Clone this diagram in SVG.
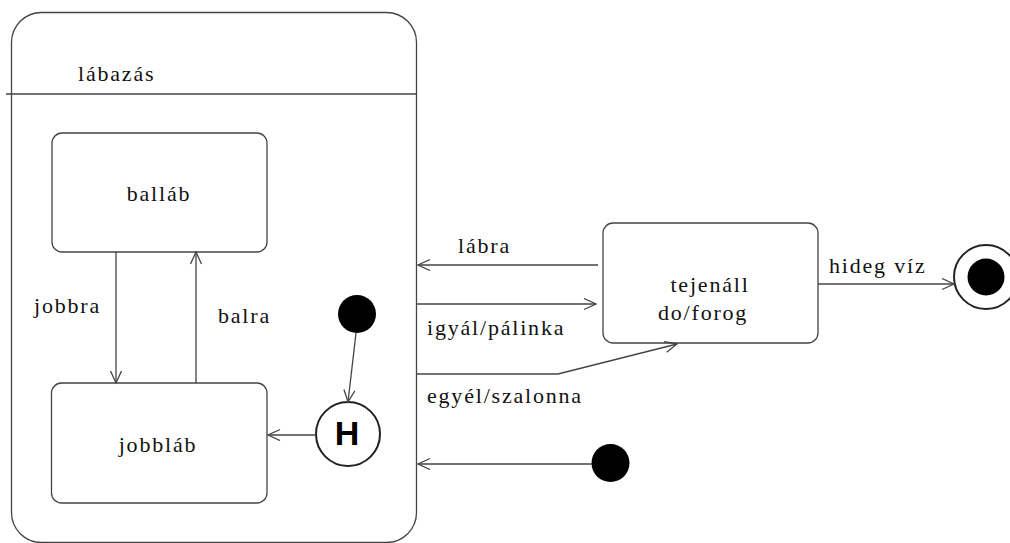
<svg xmlns="http://www.w3.org/2000/svg" width="1010" height="543" viewBox="0 0 1010 543">
<style>
.box{fill:#fff;stroke:#444;stroke-width:1.3}
.ln{fill:none;stroke:#444;stroke-width:1.3}
.t{font-family:"Liberation Serif",serif;font-size:22px;letter-spacing:1.8px;fill:#111}
.dot{fill:#000}
</style>
<defs>
<marker id="arr" markerUnits="userSpaceOnUse" markerWidth="16" markerHeight="14" refX="13" refY="6" orient="auto">
<path d="M1,0.5 L13,6 L1,11.5" fill="none" stroke="#444" stroke-width="1.3"/>
</marker>
</defs>
<g id="labazas">
<rect class="box" x="11.5" y="12.5" width="405" height="530" rx="30"/>
<line class="ln" x1="6" y1="94" x2="417" y2="94"/>
<text class="t" x="78" y="81">lábazás</text>
</g>
<g id="ballab">
<rect class="box" x="52" y="133" width="215" height="119" rx="10"/>
<text class="t" x="159" y="201" text-anchor="middle">balláb</text>
</g>
<g id="jobblab">
<rect class="box" x="51.5" y="383" width="215.5" height="120" rx="10"/>
<text class="t" x="158" y="452" text-anchor="middle">jobbláb</text>
</g>
<g id="initial-inner"><circle class="dot" cx="357" cy="314" r="19"/></g>
<g id="history">
<circle cx="348" cy="434" r="32" fill="#fff" stroke="#222" stroke-width="2"/>
<text x="347" y="445" text-anchor="middle" font-family="Liberation Sans,Arial,sans-serif" font-weight="bold" font-size="34" fill="#000">H</text>
</g>
<g id="tejenall">
<rect class="box" x="603" y="223" width="215" height="120" rx="10"/>
<text class="t" x="710" y="292" text-anchor="middle">tejenáll</text>
<text class="t" x="658" y="320">do/forog</text>
</g>
<g id="initial-outer"><circle class="dot" cx="610.5" cy="463" r="19"/></g>
<g id="final">
<circle cx="986" cy="277" r="32" fill="#fff" stroke="#222" stroke-width="2"/>
<circle class="dot" cx="986" cy="277" r="18.5"/>
</g>
<g id="connectors">
<line class="ln" x1="116" y1="252" x2="116" y2="383" marker-end="url(#arr)"/>
<text class="t" x="34" y="313">jobbra</text>
<line class="ln" x1="196" y1="383" x2="196" y2="252" marker-end="url(#arr)"/>
<text class="t" x="218" y="323">balra</text>
<line class="ln" x1="356" y1="333" x2="348" y2="402" marker-end="url(#arr)"/>
<line class="ln" x1="316" y1="435" x2="268" y2="435" marker-end="url(#arr)"/>
<line class="ln" x1="598" y1="265" x2="418" y2="265" marker-end="url(#arr)"/>
<text class="t" x="458" y="253">lábra</text>
<line class="ln" x1="417" y1="304" x2="596" y2="304" marker-end="url(#arr)"/>
<text class="t" x="427" y="335">igyál/pálinka</text>
<polyline class="ln" points="417,374 558,374 677,344" marker-end="url(#arr)"/>
<text class="t" x="427" y="403">egyél/szalonna</text>
<line class="ln" x1="592" y1="464" x2="418" y2="464" marker-end="url(#arr)"/>
<line class="ln" x1="818" y1="284" x2="954" y2="284" marker-end="url(#arr)"/>
<text class="t" x="829" y="273">hideg víz</text>
</g>
</svg>
